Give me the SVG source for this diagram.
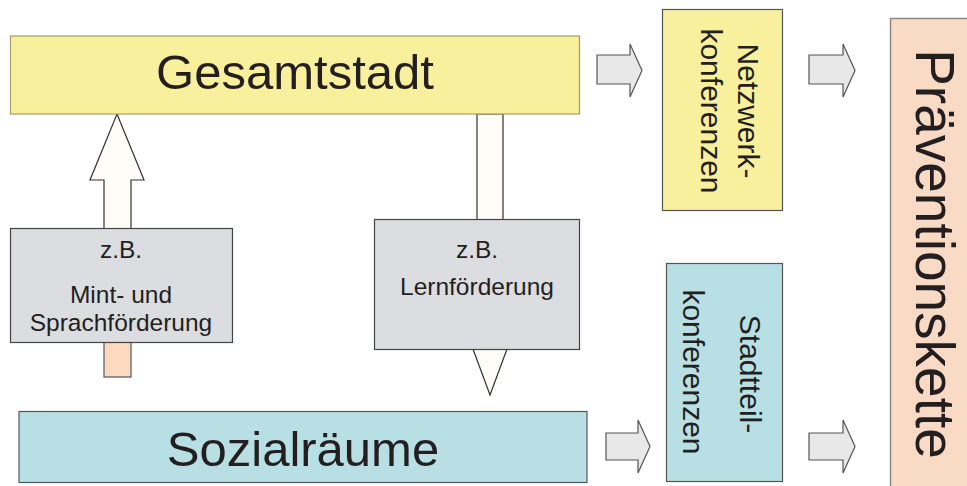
<svg xmlns="http://www.w3.org/2000/svg" width="967" height="486" viewBox="0 0 967 486">
  <style>
    text { font-family: "Liberation Sans", Arial, sans-serif; fill: #231f20; }
    .big { font-size: 49px; text-anchor: middle; }
    .mid { font-size: 30px; text-anchor: middle; }
    .small { font-size: 24.5px; text-anchor: middle; }
    .huge { font-size: 55px; text-anchor: middle; }
    .yellow { fill: #f8f09c; }
    .blue { fill: #b8dfe4; stroke: #555555; stroke-width: 1.2; }
    .grey { fill: #dcdde0; stroke: #444444; stroke-width: 1.2; }
    .block { fill: #e8e8e8; stroke: #555555; stroke-width: 1.2; }
    .shaft { fill: #fdfcf7; stroke: #333333; stroke-width: 1.2; }
  </style>

  <!-- connectors: vertical arrows behind the boxes, block arrows to the conferences -->
  <g id="connectors">
    <polygon class="shaft" points="117,114 144,180 131,180 131,230 104,230 104,180 90,180"/>
    <rect x="104" y="342" width="27" height="35" fill="#fdd9c0" stroke="#555555" stroke-width="1.2"/>
    <polygon class="shaft" points="477,114 503,114 503,349 507,349 490,395 473,349 477,349"/>
    <polygon class="block" points="597,55 630,55 630,44 642,70.5 630,97 630,84 597,84"/>
    <polygon class="block" points="809,55 843,55 843,44 855,70.5 843,97 843,84 809,84"/>
    <polygon class="block" points="606,433 638,433 638,420 650,446.5 638,473 638,460 606,460"/>
    <polygon class="block" points="809,433 843,433 843,420 855,446.5 843,473 843,460 809,460"/>
  </g>

  <g id="gesamtstadt">
    <rect class="yellow" x="10.5" y="36" width="569" height="78" stroke="#a39d68" stroke-width="1.2"/>
    <text class="big" x="295" y="89">Gesamtstadt</text>
  </g>

  <g id="mint-sprachfoerderung">
    <rect class="grey" x="10.5" y="228.5" width="222" height="114"/>
    <text class="small" x="121" y="258">z.B.</text>
    <text class="small" x="121" y="303">Mint- und</text>
    <text class="small" x="121" y="331">Sprachförderung</text>
  </g>

  <g id="lernfoerderung">
    <rect class="grey" x="374.5" y="219.5" width="205" height="130"/>
    <text class="small" x="477" y="258">z.B.</text>
    <text class="small" x="477" y="295">Lernförderung</text>
  </g>

  <g id="sozialraeume">
    <rect class="blue" x="19" y="411.5" width="568" height="71"/>
    <text class="big" x="303" y="466">Sozialräume</text>
  </g>

  <g id="netzwerkkonferenzen">
    <rect class="yellow" x="662.5" y="9.5" width="120" height="201" stroke="#555555" stroke-width="1.2"/>
    <text class="mid" transform="translate(738,111) rotate(90)">Netzwerk-</text>
    <text class="mid" transform="translate(701,111) rotate(90)">konferenzen</text>
  </g>

  <g id="stadtteilkonferenzen">
    <rect class="blue" x="666.5" y="263.5" width="116" height="218"/>
    <text class="mid" transform="translate(740,374) rotate(90)">Stadtteil-</text>
    <text class="mid" transform="translate(683,372) rotate(90)">konferenzen</text>
  </g>

  <g id="praeventionskette">
    <rect x="890.5" y="18.5" width="90" height="480" fill="#f8dac5" stroke="#8a8480" stroke-width="1.4"/>
    <text class="huge" transform="translate(916,254) rotate(90)">Präventionskette</text>
  </g>
</svg>
